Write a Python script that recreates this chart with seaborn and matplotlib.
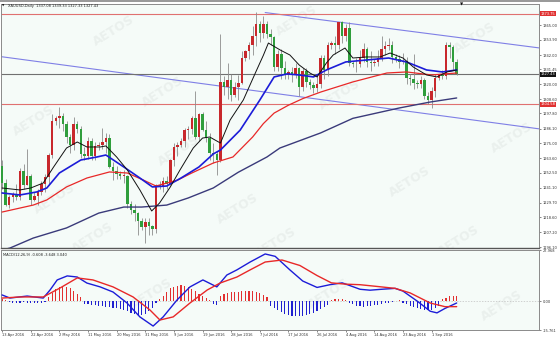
import matplotlib
matplotlib.use("Agg")
import matplotlib.pyplot as plt
import matplotlib.transforms as mtransforms
import seaborn as sns
import numpy as np
import pandas as pd

# ---------------- data (XAUUSD daily, 13 Apr - 9 Sep 2016) ----------------
bar_open = [1258,1245,1228,1234,1236,1234,1254,1243,1250,1232,
            1235,1238,1244,1249,1266,1292,1294,1296,1290,1280,
            1274,1290,1286,1267,1265,1277,1265,1273,1274,1276,
            1279,1257,1254,1252,1250,1250,1229,1224,1222,1216,
            1211,1215,1212,1210,1243,1242,1246,1244,1262,1272,
            1274,1277,1285,1286,1294,1280,1297,1285,1279,1268,
            1267,1262,1322,1318,1323,1312,1318,1321,1340,1345,
            1350,1357,1366,1359,1366,1358,1356,1333,1343,1332,
            1327,1329,1327,1332,1318,1330,1322,1319,1317,1320,
            1340,1331,1350,1351,1350,1367,1357,1363,1336,1335,
            1335,1340,1347,1337,1336,1337,1340,1347,1349,1350,
            1341,1339,1337,1338,1325,1324,1321,1320,1323,1311,
            1308,1315,1325,1327,1326,1350,1348,1337]
bar_high = [1262,1248,1236,1238,1244,1256,1259,1271,1252,1238,
            1240,1246,1252,1268,1297,1296,1303,1298,1292,1282,
            1295,1292,1288,1272,1280,1279,1276,1276,1287,1283,
            1282,1261,1258,1254,1255,1251,1231,1229,1223,1218,
            1218,1218,1213,1244,1246,1249,1250,1263,1275,1276,
            1279,1287,1288,1296,1315,1298,1299,1292,1283,1275,
            1269,1358,1326,1336,1328,1322,1327,1345,1346,1352,
            1364,1375,1368,1372,1368,1362,1357,1346,1347,1338,
            1331,1333,1336,1333,1332,1332,1324,1322,1327,1342,
            1342,1352,1353,1357,1367,1368,1366,1367,1338,1340,
            1346,1351,1348,1345,1339,1346,1357,1353,1355,1353,
            1343,1342,1344,1341,1328,1343,1323,1326,1325,1314,
            1318,1328,1328,1331,1352,1352,1350,1339]
bar_low = [1240,1227,1226,1230,1232,1232,1240,1243,1228,1231,
           1228,1236,1238,1243,1264,1289,1287,1284,1275,1268,
           1270,1283,1264,1262,1263,1262,1262,1270,1271,1268,
           1256,1247,1248,1248,1245,1226,1221,1216,1205,1209,
           1199,1205,1205,1207,1240,1238,1240,1243,1258,1265,
           1272,1272,1278,1282,1278,1277,1284,1276,1262,1260,
           1251,1261,1312,1309,1307,1310,1308,1320,1338,1339,
           1342,1349,1352,1355,1355,1350,1330,1330,1324,1324,
           1324,1322,1325,1311,1315,1318,1316,1313,1314,1317,
           1324,1326,1347,1343,1347,1351,1353,1334,1333,1329,
           1333,1337,1333,1330,1334,1334,1338,1342,1346,1336,
           1337,1332,1335,1320,1319,1316,1317,1317,1309,1305,
           1302,1310,1323,1324,1324,1340,1331,1327]
bar_close = [1245,1228,1234,1236,1234,1254,1243,1250,1232,1235,
             1238,1244,1249,1266,1292,1294,1296,1290,1280,1274,
             1290,1286,1267,1265,1277,1265,1273,1274,1276,1279,
             1257,1254,1252,1250,1250,1229,1224,1222,1216,1211,
             1215,1212,1210,1243,1242,1246,1244,1262,1272,1274,
             1277,1285,1286,1294,1280,1297,1285,1279,1268,1267,
             1262,1322,1318,1323,1312,1318,1321,1340,1345,1350,
             1357,1366,1359,1366,1358,1356,1333,1343,1332,1327,
             1329,1327,1332,1318,1330,1322,1319,1317,1320,1340,
             1331,1350,1351,1350,1367,1357,1363,1336,1335,1335,
             1340,1347,1337,1336,1337,1340,1347,1349,1350,1341,
             1339,1337,1338,1325,1324,1321,1320,1323,1311,1308,
             1315,1325,1327,1326,1350,1348,1337,1327.43]

# moving averages (bar index, price)
ma_fast_x = [0,5,8,11.5,14.4,18,21,23.7,27.4,29,32,35,38.5,41.8,44,47,49.7,53.4,56,58,61,
             63.7,67.4,71,73,74.4,77.7,80.4,83,86,88,90.6,92.5,95.8,98,101.8,105.6,108.4,112,
             114.9,118.6,121.5,124.3,127]
ma_fast_y = [1241,1239.5,1241,1244.8,1257,1271.4,1276,1272.2,1272.2,1273,1264.6,1254.7,1239.5,
             1223.5,1229.6,1241.8,1254.7,1271.4,1279,1279.8,1275.2,1292.7,1308,1330,1342,1351.3,
             1346,1342.2,1334.6,1328.5,1325.5,1336.1,1342.2,1347.5,1339.9,1340.7,1340.7,1343.7,
             1339.9,1333,1327,1325.5,1329.3,1330.8]
ma_mid_x = [0,5,9.7,12.5,16,22,26.5,29,34,38.5,42,46,50,55,59,61,66.5,72,76,79.6,83,87,90.6,
            96,101.8,108,113,118.6,123,127]
ma_mid_y = [1237.2,1235.7,1238,1241,1252.4,1262.3,1264.6,1266.1,1257,1248.6,1241.8,1242.5,
            1248.6,1257,1266.9,1269.9,1285,1307.9,1325.5,1327.8,1327,1325.5,1330.8,1336.9,
            1338.4,1339.9,1336.9,1330.8,1329.3,1330.8]
ma_long_x = [0,8.7,12.5,18,23.7,30,35,39.5,43,49,53,59,64.5,70,73,76,80,84,89,98,107.5,113,
             120,127]
ma_long_y = [1222.7,1228,1231.9,1241.8,1248.6,1253.2,1252.4,1247,1242.5,1247,1252.4,1260,
             1264.6,1279.8,1290,1298,1304,1309,1314,1321.7,1328.5,1329.3,1327,1328.5]
ma_slow_x = [0,2.2,8.7,18,27,34,39,46,52,59,66,74,77.6,89,98,111,119.6,127]
ma_slow_y = [1193.8,1195.3,1202.9,1210.6,1221.9,1226.5,1226.5,1228,1233.4,1241,1253,1264.6,
             1271.4,1282.9,1294,1301.9,1306.4,1309.5]

# channel lines and levels
chan_upper_x = [73.5, 150]
chan_upper_y = [1374.5, 1347.6]
chan_lower_x = [-1, 150.3]
chan_lower_y = [1341.2, 1285.9]
level_high = 1373.75
level_low = 1304.58
last_price = 1327.43

# MACD (12,26,9)
macd_x = [0,2.2,7,11.5,13.4,15.4,18.2,21,23.7,27.4,31,34.9,38.5,42.2,45,48.9,52.5,56.1,60,
          62.8,65.6,69.3,73.5,76.3,80.4,84,88,91.6,95,97.2,100,102.8,106,109.8,112,116,
          119.6,121.5,123.7,127]
macd_y = [3.4,1.7,2.8,1.7,6.1,11.6,13.8,13.2,9.9,7.8,5.0,-1.0,-8.6,-13.6,-8.6,0.7,7.8,11.6,
          7.8,14.3,17.1,21.4,25.8,24.5,17.1,11.0,7.5,9.0,10.0,8.5,6.5,6.0,6.5,7.0,5.5,0.0,
          -5.5,-6.4,-4.0,-1.0]
signal_x = [0,5,11.5,16.2,21,25.4,31,36.6,41.3,44.1,47.8,52.5,57.3,60.9,65.6,69.3,73.5,78.2,
            83.2,88,92,96,100,105,109.8,114,119.6,123.7,127]
signal_y = [1.7,2.3,2.3,7.2,12.7,11.6,7.8,2.3,-4.8,-10.3,-8.6,-1.0,6.1,9.9,13.2,17.1,21.4,
            22.5,19.5,14.0,10.0,9.3,9.0,8.0,7.0,4.5,-1.0,-3.0,-3.0]
macd_hist = [1.0,0.5,
             -0.6,-0.8,-1.0,-0.8,-0.6,-0.8,-1.0,-1.2,-1.0,-0.8,-0.4,
             2.5,4.5,6.5,7.8,8.5,8.0,7.0,5.5,4.0,2.5,
             -1.5,-1.8,-2.0,-2.2,-2.5,-2.8,-3.0,-3.3,-3.6,-4.0,-4.5,-5.0,-5.5,-6.2,-6.8,-7.3,
             -7.6,-7.0,-5.5,-3.5,
             -1.0,
             1.0,3.0,5.0,7.0,7.8,8.5,8.8,8.3,7.6,6.5,5.3,4.0,3.0,1.8,0.8,
             -1.5,-2.0,
             3.0,4.0,4.5,5.0,5.0,5.2,5.4,5.5,5.6,5.4,5.0,4.5,3.5,2.5,
             -2.5,-4.0,-5.0,-6.0,-6.8,-7.5,-8.0,-8.3,-8.2,-8.0,-7.6,-7.0,-6.3,-5.3,-4.3,-3.2,-2.0,
             0.5,1.0,1.2,1.0,0.5,
             -1.0,-1.8,-2.4,-2.8,-3.0,-2.8,-2.5,-2.2,-2.0,-1.6,-1.2,-0.8,
             -0.4,0.3,0.4,
             -1.0,-1.8,-2.5,-3.2,-3.8,-4.3,-4.8,-5.0,-4.8,-4.0,-2.5,
             1.0,2.0,2.8,3.0,3.0]

price_ticks = [1365.00,1353.90,1342.00,1331.45,1320.00,1308.60,1297.80,1286.10,1275.00,
               1263.60,1252.50,1241.10,1229.70,1218.60,1207.20,1196.10]
macd_ticks = [27.968, 0.0, -15.761]
macd_tick_labels = ["27.968", "0.00", "-15.761"]
date_ticks = [0,8,16,24,32,40,48,56,64,72,80,88,96,104,112,120]
date_labels = ["13 Apr 2016","22 Apr 2016","2 May 2016","11 May 2016","20 May 2016",
               "31 May 2016","9 Jun 2016","19 Jun 2016","28 Jun 2016","7 Jul 2016",
               "17 Jul 2016","26 Jul 2016","4 Aug 2016","14 Aug 2016","23 Aug 2016",
               "1 Sep 2016"]
title_text = "XAUUSD,Daily  1337.08 1339.33 1327.33 1327.43"
macd_text = "MACD(12,26,9) -0.608 -3.648 3.040"
watermark_text = "AETOS"

# ---------------- style ----------------
sns.set_theme(style="white")
plt.rcParams['font.family'] = ['DejaVu Sans']

W, H = 560, 341
BG = '#f5fbf8'
UP = '#c8282c'
DOWN = '#2f9e3c'
WICK = '#8c8c8c'
FS = 2.6

fig = plt.figure(figsize=(W / 100, H / 100), dpi=100)
fig.patch.set_facecolor('white')

def px_axes(l, t, r, b):
    return fig.add_axes([l / W, 1 - b / H, (r - l) / W, (b - t) / H])

ax = px_axes(1, 4, 539, 248)
axm = px_axes(1, 250, 539, 330)
for a in (ax, axm):
    a.set_facecolor(BG)
    for s in a.spines.values():
        s.set_color('#8a8a8a')
        s.set_linewidth(0.7)
ax.spines['bottom'].set_color('#555555')
ax.spines['bottom'].set_linewidth(1.0)

# faint watermark, drawn inside each panel
def watermark(a, spots):
    for (wx, wy) in spots:
        a.text(wx, wy, watermark_text, transform=a.transAxes, fontsize=9, fontweight='bold',
               color='#eaf0ed', rotation=32, ha='center', va='center', zorder=1, clip_on=True)

watermark(ax, [(0.21, 0.89), (0.55, 0.93), (0.88, 0.86), (0.06, 0.52), (0.30, 0.64),
               (0.63, 0.63), (0.95, 0.45), (0.10, 0.20), (0.33, 0.40), (0.44, 0.16),
               (0.76, 0.27), (0.17, 0.04), (0.51, 0.02), (0.85, 0.03)])
watermark(axm, [(0.28, 0.45), (0.61, 0.45), (0.93, 0.30)])

# ---------------- candles ----------------
idx = np.arange(len(bar_close))
o = np.array(bar_open, float)
c = np.array(bar_close, float)
hi = np.array(bar_high, float)
lo = np.array(bar_low, float)
up = c >= o
ax.vlines(idx, lo, hi, color=WICK, lw=0.6, zorder=3)
body = np.maximum(np.abs(c - o), 0.6)
ax.bar(idx, body, bottom=np.minimum(o, c), width=0.7,
       color=np.where(up, UP, DOWN), linewidth=0, zorder=4)

# ---------------- lines ----------------
def line(a, xs, ys, color, lw, z=5):
    sns.lineplot(x=xs, y=ys, ax=a, color=color, linewidth=lw, zorder=z, legend=False,
                 estimator=None, sort=False)

line(ax, chan_upper_x, chan_upper_y, '#7f7fe6', 0.8, 2)
line(ax, chan_lower_x, chan_lower_y, '#7f7fe6', 0.8, 2)
ax.axhline(level_high, color='#e07070', lw=0.8, zorder=2)
ax.axhline(level_low, color='#e07070', lw=0.8, zorder=2)
ax.axhline(last_price, color='#707070', lw=0.8, zorder=2)

line(ax, ma_slow_x, ma_slow_y, '#3a3a7a', 1.0)
line(ax, ma_long_x, ma_long_y, '#e82828', 0.9)
line(ax, ma_mid_x, ma_mid_y, '#1c1cd8', 1.2)
line(ax, ma_fast_x, ma_fast_y, '#111111', 0.7)

ax.set_xlim(-0.3, 150)
ax.set_ylim(1195.34, 1381.0)
ax.set_xticks([])
ax.set_xlabel('')
ax.set_ylabel('')
ax.yaxis.tick_right()
ax.set_yticks(price_ticks)
ax.set_yticklabels([f"{v:.2f}" for v in price_ticks])
ax.tick_params(axis='y', which='both', right=True, length=1.5, width=0.5, pad=1.0,
               labelsize=FS, colors='#555555', labelcolor='#333333')

blend = mtransforms.blended_transform_factory(ax.transAxes, ax.transData)
for val, fc in [(level_high, '#e03030'), (level_low, '#e03030'), (last_price, '#111111')]:
    ax.text(1.003, val, f"{val:.2f}", transform=blend, fontsize=FS, color='white',
            ha='left', va='center', clip_on=False, zorder=10,
            bbox=dict(facecolor=fc, edgecolor='none', pad=0.6))

# ---------------- MACD ----------------
hist = np.array(macd_hist, float)
axm.bar(idx, hist, width=0.32, color=np.where(hist > 0, '#e23030', '#2020d0'), linewidth=0,
        zorder=3)
axm.axhline(0, color='#c0c0c0', lw=0.5, ls=(0, (2, 2)), zorder=2)
line(axm, macd_x, macd_y, '#1c1cd8', 1.0)
line(axm, signal_x, signal_y, '#e82828', 1.0)
axm.set_xlim(-0.3, 150)
axm.set_ylim(-15.761, 27.968)
axm.set_xlabel('')
axm.set_ylabel('')
axm.yaxis.tick_right()
axm.set_yticks(macd_ticks)
axm.set_yticklabels(macd_tick_labels)
axm.set_xticks(date_ticks)
axm.set_xticklabels(date_labels)
for lab in axm.get_xticklabels():
    lab.set_ha('left')
axm.tick_params(axis='both', which='both', length=1.5, width=0.5, pad=1.0,
                labelsize=FS, colors='#555555', labelcolor='#333333')
axm.tick_params(axis='x', bottom=True, pad=0.8)
axm.tick_params(axis='y', right=True)
axm.text(0.004, 0.96, macd_text, transform=axm.transAxes, fontsize=FS, color='#222222',
         ha='left', va='top', zorder=10)

# ---------------- header ----------------
fig.text(2 / W, 1 - 6 / H, "\u25bc", fontsize=2.2, color='#111111', ha='left', va='center')
fig.text(8 / W, 1 - 6 / H, title_text, fontsize=FS, color='#222222', ha='left', va='center')
fig.text(462 / W, 1 - 4 / H, "\u25bc", fontsize=3, color='#111111', ha='center', va='center')
fig.patches.append(plt.Rectangle((0, 1 - 2 / H), 1, 2 / H, transform=fig.transFigure,
                                 facecolor='#9a9a9a', edgecolor='none', zorder=-1))

fig.savefig("out.png", dpi=100, facecolor='white')
